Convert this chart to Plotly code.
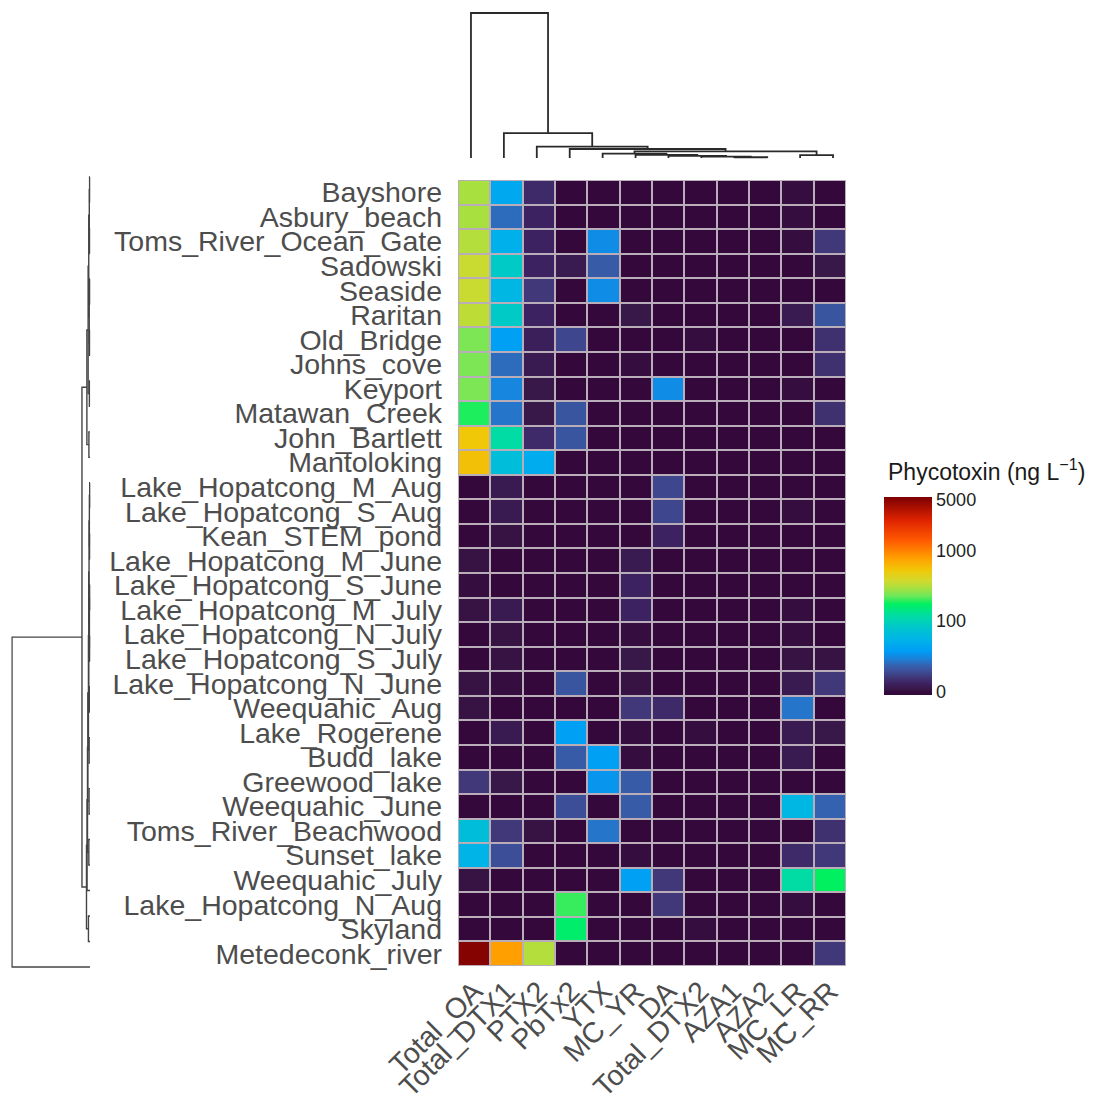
import numpy as np
import plotly.graph_objects as go

# sites (rows, top to bottom) and toxins (columns)
sites = ["Bayshore", "Asbury_beach", "Toms_River_Ocean_Gate", "Sadowski", "Seaside",
         "Raritan", "Old_Bridge", "Johns_cove", "Keyport", "Matawan_Creek",
         "John_Bartlett", "Mantoloking", "Lake_Hopatcong_M_Aug", "Lake_Hopatcong_S_Aug",
         "Kean_STEM_pond", "Lake_Hopatcong_M_June", "Lake_Hopatcong_S_June",
         "Lake_Hopatcong_M_July", "Lake_Hopatcong_N_July", "Lake_Hopatcong_S_July",
         "Lake_Hopatcong_N_June", "Weequahic_Aug", "Lake_Rogerene", "Budd_lake",
         "Greewood_lake", "Weequahic_June", "Toms_River_Beachwood", "Sunset_lake",
         "Weequahic_July", "Lake_Hopatcong_N_Aug", "Skyland", "Metedeconk_river"]
toxins = ["Total_OA", "Total_DTX1", "PTX2", "PbTx2", "YTX", "MC_YR", "DA",
          "Total_DTX2", "AZA1", "AZA2", "MC_LR", "MC_RR"]

# concentrations, ng/L (one list per toxin, in site order)
total_oa = [303, 303, 323, 367, 367, 344, 249, 249, 249, 192, 539, 574,
            0, 0, 0, 0.8, 0.4, 0.8, 0, 0, 0.8, 0.8,
            0, 0, 7.2, 0, 63, 50.5, 0.8, 0, 0, 5150]
total_dtx1 = [40, 17.7, 47, 85, 54.5, 85, 33.8, 17.7, 23.7, 19.6, 120, 63,
              2.1, 2.1, 0.8, 0, 0, 2.1, 0.8, 0.8, 0.4, 0,
              2.1, 0, 1.2, 0, 7.2, 11.1, 0, 0, 0, 788]
ptx2 = [4.9, 3.9, 3.9, 3.9, 7.2, 3.9, 3.0, 2.1, 1.2, 1.2, 4.9, 43,
        0, 0, 0, 0, 0, 0, 0, 0, 0, 0,
        0, 0, 0, 0, 0.8, 0, 0, 0, 0, 323]
pbtx2 = [0, 0, 0, 2.1, 0, 0, 9.7, 0, 0, 12.6, 12.6, 0,
         0, 0, 0, 0, 0, 0, 0, 0, 12.6, 0,
         33.8, 14.2, 0, 11.1, 0, 0, 0, 205, 168, 0]
ytx = [0, 0, 26, 14.2, 26, 0, 0, 0, 0, 0, 0, 0,
       0, 0, 0, 0, 0, 0, 0, 0, 0, 0,
       0, 33.8, 28.5, 0, 19.6, 0, 0, 0, 0, 0]
mc_yr = [0, 0, 0, 0, 0, 1.2, 0, 0.4, 0, 0, 0, 0,
         0, 0, 0, 2.1, 3.9, 3.9, 0.4, 1.2, 0.8, 7.2,
         0.4, 0.4, 14.2, 14.2, 0, 0.4, 33.8, 0, 0, 0]
da = [0, 0, 0, 0, 0, 0, 0, 0, 26, 0, 0, 0,
      9.7, 9.7, 3.9, 0, 0, 0, 0, 0, 0, 4.9,
      0, 0, 0, 0, 0, 0, 7.2, 7.2, 0, 0]
total_dtx2 = [0, 0, 0, 0, 0, 0, 0.4, 0, 0, 0, 0, 0,
              0, 0, 0, 0, 0, 0, 0, 0, 0, 0,
              0.4, 0, 0, 0, 0, 0, 0, 0, 0.4, 0]
aza1 = [0] * 32
aza2 = [0] * 32
mc_lr = [0.4, 0.4, 0.4, 0, 0, 2.1, 0, 0, 0.4, 0, 0, 0,
         0, 0.4, 0, 0, 0, 0.4, 0.4, 0.8, 2.1, 19.6,
         2.1, 2.1, 0, 54.5, 0, 4.9, 120, 0.4, 0, 0]
mc_rr = [0, 0, 7.2, 1.2, 0, 12.6, 6.0, 6.0, 0, 6.0, 0, 0,
         0, 0, 0, 0, 0, 0, 0, 0.8, 7.2, 0,
         1.2, 0, 0, 15.9, 6.0, 7.2, 179, 0, 0, 7.2]

cbar_ticks = [0, 100, 1000, 5000]

# dendrograms: (left, right, height), leaves = index in display order
col_tree = (0, (1, (2, (3, ((4, (5, (6, (7, (8, 9, 0.5), 1.0), 1.5), 2.2), 3.0),
                             (10, 11, 2.0), 4.5), 6.2), 7.8), 17.2), 100)
marine = ((((0, 1, 0.5), (2, 3, 0.6), 0.9), ((4, 5, 0.5), (6, 7, 0.6), 1.0), 1.6),
          (8, 9, 0.8), 2.4)
marine = (marine, (10, 11, 1.4), 4.0)
lakes = (((((12, 13, 0.4), (14, 15, 0.5), 0.8), ((16, 17, 0.4), (18, 19, 0.5), 0.7), 1.2),
          (20, 21, 0.9), 1.6), (22, 23, 1.1), 2.0)
lakes = (lakes, (24, 25, 1.2), 2.8)
lakes = (lakes, (26, 27, 1.5), 3.2)
lakes = (lakes, 28, 3.8)
lakes = (lakes, (29, 30, 2.0), 4.5)
row_tree = ((marine, lakes, 10.3), 31, 100)


def tree_segments(node, pos, hgt):
    if isinstance(node, int):
        return node, 0.0
    left, right, h = node
    p1, h1 = tree_segments(left, pos, hgt)
    p2, h2 = tree_segments(right, pos, hgt)
    pos += [p1, p1, p2, p2, None]
    hgt += [h1, h, h, h2, None]
    return (p1 + p2) / 2, h


W, H = 1106, 1105
OFF = 8  # page body margin
FONT = "Liberation Sans, Arial, Helvetica, sans-serif"


def px(x):
    return (x - OFF) / W


def py(y):
    return 1 - (y - OFF) / H


values = np.array([total_oa, total_dtx1, ptx2, pbtx2, ytx, mc_yr, da,
                   total_dtx2, aza1, aza2, mc_lr, mc_rr], dtype=float).T
z = np.log10(values + 12)

colorscale = [
    [0.00, "#2f0a3c"], [0.015, "#34083a"], [0.03, "#381848"], [0.06, "#3d2262"],
    [0.09, "#403878"], [0.12, "#3d4e98"], [0.15, "#3562b0"], [0.18, "#1d7fd6"],
    [0.22, "#009cf6"], [0.28, "#00b4e8"], [0.34, "#00c6cc"], [0.40, "#00dca4"],
    [0.46, "#00f060"], [0.50, "#6ee85a"], [0.54, "#a8e040"], [0.58, "#d4d82c"],
    [0.63, "#f0c808"], [0.69, "#ffa000"], [0.78, "#ff5a00"], [0.88, "#e02400"],
    [1.00, "#7d0000"],
]

fig = go.Figure()
fig.add_trace(go.Heatmap(
    z=z, x=toxins, y=sites, zmin=1.04, zmax=3.74, colorscale=colorscale,
    xgap=2, ygap=2, hoverinfo="skip",
    colorbar=dict(
        x=px(884), xanchor="left", xpad=0, y=py(596), yanchor="middle", ypad=0,
        len=198, lenmode="pixels", thickness=48, thicknessmode="pixels",
        outlinewidth=0, tickvals=[np.log10(v + 12) for v in cbar_ticks],
        ticktext=[str(v) for v in cbar_ticks], ticks="",
        tickfont=dict(size=18, color="#222222", family=FONT),
    ),
))

# top dendrogram
cx, cy = [], []
tree_segments(col_tree, cx, cy)
fig.add_trace(go.Scatter(x=cx, y=cy, mode="lines", xaxis="x2", yaxis="y2",
                         line=dict(color="#2a2a2a", width=1.8), hoverinfo="skip", showlegend=False))
# left dendrogram
ry, rx = [], []
tree_segments(row_tree, ry, rx)
fig.add_trace(go.Scatter(x=rx, y=ry, mode="lines", xaxis="x3", yaxis="y3",
                         line=dict(color="#444444", width=1.4), hoverinfo="skip", showlegend=False))

hidden = dict(visible=False, showgrid=False, zeroline=False, automargin=False)
fig.update_layout(
    width=W, height=H, margin=dict(l=0, r=0, t=0, b=0, autoexpand=False),
    paper_bgcolor="white", plot_bgcolor="white",
    font=dict(family=FONT, color="#4d4d4d"),
    xaxis=dict(domain=[px(458), px(846)], tickangle=-45, showgrid=False, zeroline=False,
               tickmode="array", tickvals=toxins, ticktext=toxins, automargin=False,
               tickfont=dict(size=28.5, color="#4d4d4d"), ticks="", ticklabelstandoff=2),
    yaxis=dict(domain=[py(966), py(180)], autorange="reversed", showgrid=False,
               tickmode="array", tickvals=sites, ticktext=sites, automargin=False,
               zeroline=False, tickfont=dict(size=28.5, color="#4d4d4d"), ticks="",
               ticklabelstandoff=15),
    xaxis2=dict(domain=[px(454.5), px(849.5)], range=[-0.5, 11.5], anchor="y2", **hidden),
    yaxis2=dict(domain=[py(159.45), py(11.55)], range=[-1, 101], anchor="x2", **hidden),
    xaxis3=dict(domain=[px(11.22), px(90.78)], range=[101, -1], anchor="y3", **hidden),
    yaxis3=dict(domain=[py(979.7), py(164.3)], range=[31.5, -0.5], anchor="x3", **hidden),
    shapes=[dict(type="rect", xref="x domain", yref="y domain", x0=0, x1=1, y0=0, y1=1,
                 fillcolor="#b9adb9", line=dict(width=0), layer="below")],
    annotations=[dict(text="Phycotoxin (ng L<sup>−1</sup>)", x=px(886), y=py(470),
                      xref="paper", yref="paper", xanchor="left", yanchor="middle",
                      showarrow=False, font=dict(size=23, color="#1a1a1a", family=FONT))],
)

fig.write_html("out.html")
